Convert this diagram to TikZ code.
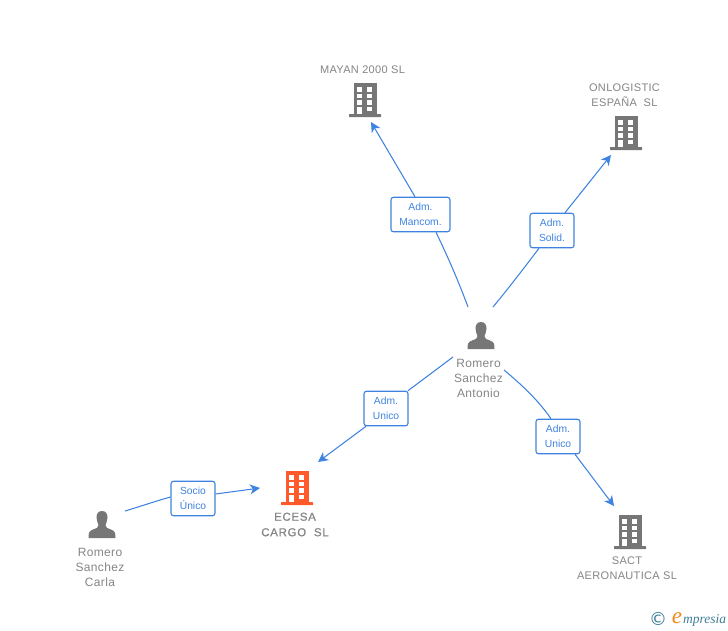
\documentclass[tikz,border=0pt]{standalone}
\usepackage{fontspec}
\setmainfont{Liberation Sans}
\newfontfamily\logofont{DejaVu Sans}
\newfontfamily\spaced[LetterSpace=3]{Liberation Sans}
\newfontfamily\spacedb[LetterSpace=6,FakeBold=0.6]{Liberation Sans}
\newfontfamily\logoser{Liberation Serif}
\usetikzlibrary{arrows.meta}
\definecolor{icon}{HTML}{767676}
\definecolor{txt}{HTML}{858585}
\definecolor{link}{HTML}{3F83E0}
\definecolor{hot}{HTML}{FF5A2B}
\definecolor{logoblue}{HTML}{3F7F98}
\definecolor{logoorange}{HTML}{F08A1C}
\newcommand{\bldg}[2]{%
  \begin{scope}[shift={(#1)}]
    \fill[#2] (-11.5,-17) rectangle (11.5,15);
    \fill[#2,rounded corners=.5pt] (-16,14) rectangle (16,17);
    \foreach \yy in {-13,-6.5,0}{
      \fill[white] (-8,\yy) rectangle (-3,\yy+4.5);
      \fill[white] (2,\yy) rectangle (7,\yy+4.5);}
    \fill[white] (-8,6.5) rectangle (-3,14);
    \fill[white] (2,6.5) rectangle (7,11);
  \end{scope}}
\newcommand{\prsn}[1]{%
  \begin{scope}[shift={(#1)}]
    \fill[icon] (0,-14) .. controls (4,-14) and (5.5,-11) .. (5.5,-7.5)
      .. controls (5.5,-4) and (4,-2) .. (3.5,0) .. controls (3.5,2.5) and (5,3) .. (9,4.5)
      .. controls (13,6) and (13.5,8) .. (13.5,13) -- (-13.5,13)
      .. controls (-13.5,8) and (-13,6) .. (-9,4.5) .. controls (-5,3) and (-3.5,2.5) .. (-3.5,0)
      .. controls (-4,-2) and (-5.5,-4) .. (-5.5,-7.5) .. controls (-5.5,-11) and (-4,-14) .. (0,-14) -- cycle;
  \end{scope}}
\tikzset{
  x=1pt,y=-1pt,
  lbl/.style={font=\spaced\fontsize{11}{15}\selectfont,text=txt,align=center,inner sep=0pt},
  lblb/.style={font=\spacedb\fontsize{11.5}{15.5}\selectfont,text=txt,align=center,inner sep=0pt},
  lblp/.style={font=\spaced\fontsize{12}{15}\selectfont,text=txt,align=center,inner sep=0pt},
  rel/.style={draw=link,fill=white,rounded corners=2.5pt,line width=1.1pt,text=link,align=center,
    font=\fontsize{10.3}{15}\selectfont,inner sep=0pt,minimum height=34.5pt},
  conn/.style={draw=link,line width=1.05pt},
  arr/.style={conn,-{Stealth[length=10pt,width=10pt,inset=3pt]}}
}
\begin{document}
\begin{tikzpicture}
\useasboundingbox (0,0) rectangle (728,630);
\fill[white] (0,0) rectangle (728,630);
% icons
\bldg{365,100}{icon}
\bldg{626,133}{icon}
\bldg{630,532}{icon}
\bldg{297,488}{hot}
\prsn{481,336}
\prsn{102,525}
% labels
\node[lbl] (mayan) at (362.5,70) {MAYAN 2000 SL};
\node[lbl] (onlog) at (624.5,95) {ONLOGISTIC\\ESPAÑA\ \ SL};
\node[lbl] (sact) at (627,568.5) {SACT\\AERONAUTICA SL};
\node[lblb] (ecesa) at (295,524.5) {ECESA\\CARGO\ \ SL};
\node[lblp] (antonio) at (478.5,378) {Romero\\Sanchez\\Antonio};
\node[lblp] (carla) at (100,567) {Romero\\Sanchez\\Carla};
% relation boxes
\node[rel,minimum width=59pt] (bm) at (420.5,214.5) {Adm.\\Mancom.};
\node[rel,minimum width=44pt] (bo) at (552,230.5) {Adm.\\Solid.};
\node[rel,minimum width=44pt] (be) at (386,408.5) {Adm.\\Unico};
\node[rel,minimum width=44pt] (bs) at (558,436.5) {Adm.\\Unico};
\node[rel,minimum width=44pt] (bc) at (193,498.5) {Socio\\Único};
% free ends
\coordinate (am) at (468,307);
\coordinate (ao) at (493,307);
\coordinate (ae) at (453,357);
\coordinate (as) at (504,370);
\coordinate (cc) at (125,511);
\coordinate (tm) at (371,122);
\coordinate (to) at (611,155);
\coordinate (te) at (318,462);
\coordinate (ts) at (614,506);
\coordinate (tc) at (260,488);
% connectors
\draw[conn] (am) .. controls (458,280) and (447,255) .. (bm.south -| 436,0);
\draw[arr] (bm.north -| 415,0) -- (tm);
\draw[conn] (ao) .. controls (508,289) and (524,268) .. (bo.south -| 539,0);
\draw[arr] (bo.north -| 565,0) -- (to);
\draw[conn] (ae) -- (be.north -| 408,0);
\draw[arr] (be.south -| 366,0) -- (te);
\draw[conn] (as) .. controls (522,385) and (538,400) .. (bs.north -| 551,0);
\draw[arr] (bs.south -| 575,0) -- (ts);
\draw[conn] (cc) .. controls (140,506.5) and (156,501) .. (bc.west |- 0,497);
\draw[arr] (bc.east |- 0,494) -- (tc);
% logo
\node[inner sep=0pt,text=logoblue,font=\logofont\fontsize{18}{18}\selectfont] (logoc) at (658,619) {©};
\node[inner sep=0pt,text=logoorange,font=\logoser\itshape\fontsize{23}{23}\selectfont] (logoe) at (677,618) {e};
\node[inner sep=0pt,text=logoblue,font=\logoser\itshape\fontsize{13.5}{14}\selectfont,anchor=west] (logot) at (683,620) {mpresia};
\end{tikzpicture}
\end{document}
